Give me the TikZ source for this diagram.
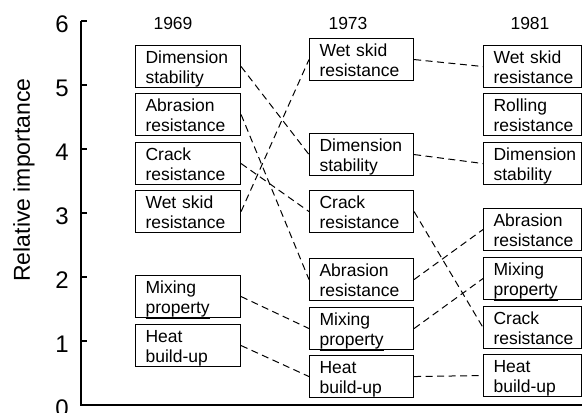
\documentclass[tikz,border=0pt]{standalone}
\usepackage{fontspec}
\setmainfont{Liberation Sans}
\newcommand\boxfont{\fontsize{17.5}{20}\selectfont\hyphenpenalty=10000\exhyphenpenalty=10000\relax}
\newcommand\fa{\rule{0pt}{18pt}}
\newcommand\fb{\rule[-4pt]{0pt}{4pt}}
\newcommand\ulp[1]{\smash{\underline{#1}}}
\tikzset{
  box/.style={draw, line width=1.1pt, rectangle, anchor=north west, minimum height=42pt,
    inner xsep=10pt, inner ysep=0pt, align=left, font=\boxfont},
  col69/.style={box, text width=85pt},
  col73/.style={box, text width=84pt},
  col81/.style={box, text width=78pt},
  con/.style={line width=1pt, dash pattern=on 7pt off 4.5pt},
  yr/.style={font=\fontsize{17.5}{20}\selectfont},
  num/.style={font=\fontsize{24}{28}\selectfont},
  axis/.style={line width=1.2pt},
}
\begin{document}
\begin{tikzpicture}[x=1pt,y=1pt]
\useasboundingbox (0,0) rectangle (582,413);
% axes
\coordinate (top) at (81,392);
\coordinate (orig) at (81,8);
\coordinate (xend) at (582,8);
\draw[axis] (top) -- (orig) -- (xend);
\foreach \v in {1,...,6}{
  \coordinate (t\v) at (81,8+64*\v);
  \draw[axis] (t\v) -- ++(6,0);
}
\foreach \v in {0,...,6}{
  \node[num] (n\v) at (62,5+64*\v) {\v};
}
\node[rotate=90, font=\fontsize{23}{27}\selectfont] (ylab) at (24,233) {Relative importance};
% years
\node[yr] (y69) at (173,390) {1969};
\node[yr] (y73) at (348,390) {1973};
\node[yr] (y81) at (530,390) {1981};
% 1969
\node[col69] (d69) at (135,368) {\fa Dimension\\stability\fb};
\node[col69] (a69) at (135,320) {\fa Abrasion\\resistance\fb};
\node[col69] (c69) at (135,271) {\fa Crack\\resistance\fb};
\node[col69] (w69) at (135,223) {\fa Wet skid\\resistance\fb};
\node[col69] (m69) at (135,138) {\fa Mixing\\\ulp{property}\fb};
\node[col69] (h69) at (135,89) {\fa Heat\\build-up\fb};
% 1973
\node[col73] (w73) at (309,375) {\fa Wet skid\\resistance\fb};
\node[col73] (d73) at (309,280) {\fa Dimension\\stability\fb};
\node[col73] (c73) at (309,223) {\fa Crack\\resistance\fb};
\node[col73] (a73) at (309,155) {\fa Abrasion\\resistance\fb};
\node[col73] (m73) at (309,106) {\fa Mixing\\\ulp{property}\fb};
\node[col73] (h73) at (309,58) {\fa Heat\\build-up\fb};
% 1981
\node[col81] (w81) at (483,368) {\fa Wet skid\\resistance\fb};
\node[col81] (r81) at (483,320) {\fa Rolling\\resistance\fb};
\node[col81] (d81) at (483,271) {\fa Dimension\\stability\fb};
\node[col81] (a81) at (483,205) {\fa Abrasion\\resistance\fb};
\node[col81] (m81) at (483,156) {\fa Mixing\\\ulp{property}\fb};
\node[col81] (c81) at (483,107) {\fa Crack\\resistance\fb};
\node[col81] (h81) at (483,59) {\fa Heat\\build-up\fb};
% connectors 1969 -> 1973
\draw[con] (d69.east) -- (d73.west);
\draw[con] (a69.east) -- (a73.west);
\draw[con] (c69.east) -- (c73.west);
\draw[con] (w69.east) -- (w73.west);
\draw[con] (m69.east) -- (m73.west);
\draw[con] (h69.east) -- (h73.west);
% connectors 1973 -> 1981
\draw[con] (w73.east) -- (w81.west);
\draw[con] (d73.east) -- (d81.west);
\draw[con] (c73.east) -- (c81.west);
\draw[con] (a73.east) -- (a81.west);
\draw[con] (m73.east) -- (m81.west);
\draw[con] (h73.east) -- (h81.west);
\end{tikzpicture}
\end{document}
